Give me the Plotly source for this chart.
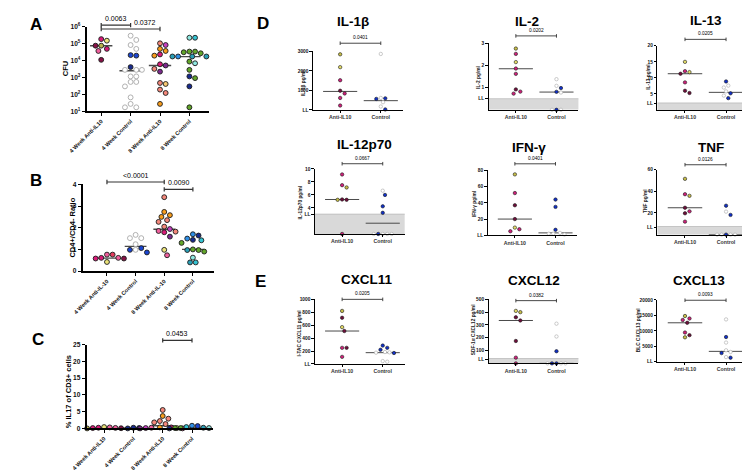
import numpy as np
import plotly.graph_objects as go

W, H = 750, 470
FONT = "Liberation Sans, Arial, sans-serif"

# ---------------- data ----------------
cats_A = ["4 Week Anti-IL10", "4 Week Control", "8 Week Anti-IL10", "8 Week Control"]
cats_B = ["4 Week Anti-IL-10", "4 Week Control", "8 Week Anti-IL-10", "8 Week Control"]
cats_C = ["4 Week Anti-IL10", "4 Week Control", "8 Week Anti-IL10", "8 Week Control"]
cats_DE = ["Anti-IL10", "Control"]

# Panel A: CFU
cfu_4w_anti = [150000, 186000, 76000, 76000, 49000, 37000, 11000]
cfu_4w_anti_col = ["y", "m", "o", "d", "m", "p", "d"]
cfu_4w_ctrl = [295000, 166000, 83000, 49000, 21000, 19500, 4100, 2800, 2800, 2800,
               1150, 1150, 540, 540, 295, 66, 27, 17, 17]
cfu_4w_ctrl_col = ["w", "w", "w", "w", "b", "b", "n", "w", "w", "w",
                   "w", "w", "w", "w", "w", "w", "w", "w", "w"]
cfu_8w_anti = [105000, 83000, 49000, 37000, 23000, 19500, 6000, 5100, 3200, 2200, 470, 410, 190, 120, 27]
cfu_8w_anti_col = ["s", "v", "or", "or", "m", "or", "m", "pu", "s", "pu", "s", "lo", "s", "s", "or"]
cfu_8w_ctrl = [224000, 224000, 34000, 34000, 31000, 27000, 17400, 17400, 17400, 17400,
               8700, 6900, 2800, 1150, 910, 295, 17]
cfu_8w_ctrl_col = ["lc", "c", "g", "g", "g", "g", "t", "sk", "t", "t",
                   "g", "lc", "g", "n", "g", "n", "g"]
cfu_medians = [76000, 2500, 5100, 17000]

# Panel B: CD4+/CD4- ratio
cd4_4w_anti = [0.76, 0.76, 0.61, 0.58, 0.61, 0.58, 0.42]
cd4_4w_anti_col = ["p", "r", "m", "m", "p", "d", "y"]
cd4_4w_ctrl = [1.67, 1.52, 1.52, 1.24, 0.98, 1.06, 0.98, 0.86]
cd4_4w_ctrl_col = ["w", "w", "w", "w", "w", "b", "b", "b"]
cd4_8w_anti = [3.41, 2.73, 2.58, 2.5, 2.35, 2.27, 2.05, 1.94, 1.85, 1.82, 1.79, 1.59, 0.98, 0.73]
cd4_8w_anti_col = ["s", "or", "or", "or", "s", "s", "s", "v", "p", "s", "m", "pu", "y", "p"]
cd4_8w_ctrl = [1.7, 1.64, 1.5, 1.44, 1.42, 1.3, 1.0, 0.97, 0.97, 0.9, 0.62, 0.4, 0.4]
cd4_8w_ctrl_col = ["sk", "n", "sk", "n", "c", "g", "g", "g", "t", "g", "lc", "c", "t"]
cd4_medians = [0.6, 1.14, 1.93, 1.0]

# Panel C: % IL17 of CD3+
il17_4w_anti = [0.0, 0.4, 0.3, 0.2, 0.1, 0.05, 0.15]
il17_4w_anti_col = ["o", "y", "p", "m", "m", "d", "p"]
il17_4w_ctrl = [0.0, 0.1, 0.2]
il17_4w_ctrl_col = ["n", "n", "n"]
il17_8w_anti = [5.5, 3.7, 2.9, 2.2, 1.8, 1.3, 0.3, 0.2, 0.1, 0.1, 0.0, 0.3, 0.0]
il17_8w_anti_col = ["s", "or", "s", "s", "s", "s", "or", "p", "y", "v", "p", "m", "pu"]
il17_8w_ctrl = [0.8, 0.7, 0.4, 0.1, 0.0, 0.2, 0.0, 0.1, 0.0, 0.1]
il17_8w_ctrl_col = ["sk", "b", "c", "g", "g", "t", "n", "lc", "t", "g"]
il17_medians = [0.15, 0.1, 0.8, 0.15]

# Panels D/E: cytokines (pg/ml), [anti-IL10, control]
il1b_anti = [2850, 2190, 1520, 980, 840, 610, 220]
il1b_anti_col = ["o", "y", "m", "d", "m", "m", "m"]
il1b_ctrl = [2870, 590, 560, 610, 390, 170, 20]
il1b_ctrl_col = ["w", "b", "b", "w", "w", "w", "b"]
il1b_medians = [945, 470]

il2_anti = [2.76, 2.52, 2.15, 1.86, 1.62, 0.92, 0.82, 0.73]
il2_anti_col = ["o", "m", "y", "m", "m", "d", "m", "m"]
il2_ctrl = [1.38, 1.08, 0.98, 0.81, 0.78, 0, 0, 0]
il2_ctrl_col = ["w", "w", "b", "b", "w", "b", "w", "w"]
il2_medians = [1.85, 0.8]

il13_anti = [15, 12.1, 11.8, 11.3, 8.6, 6, 5.3]
il13_anti_col = ["y", "m", "y", "d", "m", "d", "d"]
il13_ctrl = [8.9, 7.6, 7, 5.8, 5.2, 4.5, 3.7]
il13_ctrl_col = ["b", "w", "w", "w", "b", "w", "b"]
il13_medians = [11.3, 5.5]

il12_anti = [9.15, 7.5, 7.15, 5.3, 5.25, 5.25, 0]
il12_anti_col = ["m", "m", "o", "d", "d", "o", "m"]
il12_ctrl = [6.65, 6.0, 4.25, 3.25, 0, 0, 0, 0, 0]
il12_ctrl_col = ["w", "b", "b", "b", "w", "w", "b", "w", "w"]
il12_medians = [5.3, 1.65]

ifng_anti = [75, 52, 37, 20, 9.5, 7.5, 5]
ifng_anti_col = ["o", "m", "d", "d", "y", "m", "m"]
ifng_ctrl = [44, 35, 6.8, 3, 2, 2, 1]
ifng_ctrl_col = ["b", "b", "b", "w", "w", "w", "w"]
ifng_medians = [20, 3]

tnf_anti = [51.5, 37.3, 35.8, 24.8, 21.5, 19.7, 12]
tnf_anti_col = ["o", "m", "o", "d", "m", "d", "m"]
tnf_ctrl = [26.7, 21.2, 18.2, 0, 0, 0, 0, 0]
tnf_ctrl_col = ["b", "w", "b", "b", "w", "w", "w", "w"]
tnf_medians = [24.8, 0]

cxcl11_anti = [821, 715, 570, 510, 250, 250, 110]
cxcl11_anti_col = ["o", "d", "y", "d", "m", "d", "m"]
cxcl11_ctrl = [285, 250, 220, 185, 180, 175, 170, 45, 35]
cxcl11_ctrl_col = ["b", "b", "b", "w", "w", "w", "b", "w", "w"]
cxcl11_medians = [510, 175]

cxcl12_anti = [410, 400, 360, 335, 175, 45, 0]
cxcl12_anti_col = ["y", "o", "d", "d", "d", "m", "m"]
cxcl12_ctrl = [310, 210, 95, 0, 0, 0, 0, 0]
cxcl12_ctrl_col = ["w", "w", "b", "b", "w", "b", "w", "w"]
cxcl12_medians = [335, 0]

cxcl13_anti = [14800, 14000, 13500, 12600, 9450, 8600, 7900]
cxcl13_anti_col = ["o", "m", "m", "d", "m", "d", "o"]
cxcl13_ctrl = [13700, 8000, 6200, 3700, 3150, 2800, 1500, 1300]
cxcl13_ctrl_col = ["w", "b", "w", "w", "w", "b", "w", "b"]
cxcl13_medians = [12600, 3350]

# ---------------- styles ----------------
STY = {
    "o": "#b9b44c", "y": "#ece47a", "lo": "#f6c870", "m": "#d81b78", "p": "#ef5f9c",
    "d": "#861246", "r": "#e23a5c", "or": "#f79c1c", "s": "#f3877a", "v": "#c540c0",
    "pu": "#7b2a8c", "g": "#62a52a", "n": "#172a8c", "b": "#1a45d0", "sk": "#2f8fe6",
    "t": "#2a9fb6", "c": "#35c3d2", "lc": "#8fe8e0", "w": "#ffffff",
}
DE_STY = {"o": "#c8bf48", "y": "#e4dc66", "m": "#d0207a", "d": "#6e0e3a",
          "b": "#1030c8", "w": "#ffffff"}


def px(x):
    return x / W


def py(y):
    return 1 - y / H


panels = [
    dict(L=62, R=187, T=15, B=100.7, yr=[1, 6], log=True, xr=[-0.5, 3.65], cats=cats_A,
         groups=[(cfu_4w_anti, cfu_4w_anti_col), (cfu_4w_ctrl, cfu_4w_ctrl_col),
                 (cfu_8w_anti, cfu_8w_anti_col), (cfu_8w_ctrl, cfu_8w_ctrl_col)],
         med=cfu_medians,
         tv=[10, 100, 1e3, 1e4, 1e5, 1e6],
         tt=["10<sup>1</sup>", "10<sup>2</sup>", "10<sup>3</sup>", "10<sup>4</sup>", "10<sup>5</sup>", "10<sup>6</sup>"],
         sig=[(0, 1, 1.26e6, "0.0063", 0.5), (0, 2, 7.4e5, "0.0372", 1.5)],
         band=None, big=True),
    dict(L=58, R=193, T=175, B=263, yr=[0, 4], log=False, xr=[-0.85, 3.75], cats=cats_B,
         groups=[(cd4_4w_anti, cd4_4w_anti_col), (cd4_4w_ctrl, cd4_4w_ctrl_col),
                 (cd4_8w_anti, cd4_8w_anti_col), (cd4_8w_ctrl, cd4_8w_ctrl_col)],
         med=cd4_medians, tv=[0, 1, 2, 3, 4], tt=["0", "1", "2", "3", "4"],
         sig=[(0, 2, 4.11, "<0.0001", 1.0), (2, 3, 3.77, "0.0090", 2.5)],
         band=None, big=True),
    dict(L=62, R=192, T=337.7, B=422.7, yr=[0, 25], log=False, xr=[-0.6, 3.73], cats=cats_C,
         groups=[(il17_4w_anti, il17_4w_anti_col), (il17_4w_ctrl, il17_4w_ctrl_col),
                 (il17_8w_anti, il17_8w_anti_col), (il17_8w_ctrl, il17_8w_ctrl_col)],
         med=il17_medians, tv=[0, 5, 10, 15, 20, 25], tt=["0", "5", "10", "15", "20", "25"],
         sig=[(2, 3, 26.3, "0.0453", 2.5)], band=None, big=True),
    dict(L=294, R=386, T=40, B=99.3, yr=[0, 3000], groups=[(il1b_anti, il1b_anti_col), (il1b_ctrl, il1b_ctrl_col)],
         med=il1b_medians, tv=[0, 1000, 2000, 3000], tt=["LL", "1000", "2000", "3000"],
         sig=[(0, 1, 3420, "0.0401", 0.5)], band=None),
    dict(L=474, R=566, T=31.7, B=99.3, yr=[0, 3], groups=[(il2_anti, il2_anti_col), (il2_ctrl, il2_ctrl_col)],
         med=il2_medians, tv=[0.5, 1, 2, 3], tt=["LL", "1", "2", "3"],
         sig=[(0, 1, 3.33, "0.0202", 0.5)], band=0.5),
    dict(L=647, R=740, T=34.3, B=99.5, yr=[0, 20], groups=[(il13_anti, il13_anti_col), (il13_ctrl, il13_ctrl_col)],
         med=il13_medians, tv=[2, 5, 10, 15, 20], tt=["LL", "5", "10", "15", "20"],
         sig=[(0, 1, 22, "0.0205", 0.5)], band=2.2),
    dict(L=296, R=388, T=159.3, B=225.3, yr=[0, 10], groups=[(il12_anti, il12_anti_col), (il12_ctrl, il12_ctrl_col)],
         med=il12_medians, tv=[3, 4, 6, 8, 10], tt=["LL", "4", "6", "8", "10"],
         sig=[(0, 1, 10.8, "0.0667", 0.5)], band=3.05),
    dict(L=473, R=565, T=160.7, B=226.7, yr=[0, 80], groups=[(ifng_anti, ifng_anti_col), (ifng_ctrl, ifng_ctrl_col)],
         med=ifng_medians, tv=[0, 20, 40, 60, 80], tt=["LL", "20", "40", "60", "80"],
         sig=[(0, 1, 88, "0.0401", 0.5)], band=None),
    dict(L=647, R=740, T=160, B=226, yr=[0, 60], groups=[(tnf_anti, tnf_anti_col), (tnf_ctrl, tnf_ctrl_col)],
         med=tnf_medians, tv=[7, 20, 40, 60], tt=["LL", "20", "40", "60"],
         sig=[(0, 1, 64.5, "0.0126", 0.5)], band=7.5),
    dict(L=296, R=388, T=291.7, B=357.3, yr=[0, 1000], groups=[(cxcl11_anti, cxcl11_anti_col), (cxcl11_ctrl, cxcl11_ctrl_col)],
         med=cxcl11_medians, tv=[0, 200, 400, 600, 800, 1000], tt=["LL", "200", "400", "600", "800", "1000"],
         sig=[(0, 1, 1000, "0.0205", 0.5)], band=None),
    dict(L=474, R=566, T=291.7, B=356.7, yr=[0, 500], groups=[(cxcl12_anti, cxcl12_anti_col), (cxcl12_ctrl, cxcl12_ctrl_col)],
         med=cxcl12_medians, tv=[30, 100, 200, 300, 400, 500], tt=["LL", "100", "200", "300", "400", "500"],
         sig=[(0, 1, 490, "0.0382", 0.5)], band=38),
    dict(L=647, R=740, T=292.3, B=355, yr=[0, 20000], groups=[(cxcl13_anti, cxcl13_anti_col), (cxcl13_ctrl, cxcl13_ctrl_col)],
         med=cxcl13_medians, tv=[0, 5000, 10000, 15000, 20000], tt=["LL", "5000", "10000", "15000", "20000"],
         sig=[(0, 1, 19900, "0.0093", 0.5)], band=None),
]


def swarm(vals, ypu, xpu, step, log=False):
    ys = [(np.log10(v) if log else v) * ypu for v in vals]
    order = sorted(range(len(vals)), key=lambda i: -ys[i])
    placed = []
    offs = [0.0] * len(vals)
    for i in order:
        k = 0.0
        found = None
        while found is None:
            cands = [0.0] if k == 0 else [k * step, -k * step]
            for c in cands:
                if all((c - a) ** 2 + (ys[i] - b) ** 2 >= (step * 0.97) ** 2 for a, b in placed):
                    found = c
                    break
            k += 0.5
        placed.append((found, ys[i]))
        offs[i] = found / xpu
    return offs


fig = go.Figure()
shapes = []
annotations = []
layout_axes = {}

for idx, p in enumerate(panels, start=1):
    big = p.get("big", False)
    log = p.get("log", False)
    xr = p.get("xr", [-0.67, 1.54])
    cats = p.get("cats", cats_DE)
    xs = "" if idx == 1 else str(idx)
    xname, yname = "x" + xs, "y" + xs
    sty = STY if big else DE_STY
    wpx = p["R"] - p["L"]
    hpx = p["B"] - p["T"]
    xpu = wpx / (xr[1] - xr[0])
    ypu = hpx / (p["yr"][1] - p["yr"][0])
    ms = 4.9 if big else 3.4
    step = 5.8 if big else 4.6
    lw_axis = 1.5 if big else 1.1

    # median lines
    mx, my = [], []
    half = 0.38 if big else 0.42
    for gi, m in enumerate(p["med"]):
        mx += [gi - half, gi + half, None]
        my += [m, m, None]
    fig.add_trace(go.Scatter(x=mx, y=my, mode="lines", xaxis=xname, yaxis=yname,
                             line=dict(color="#4a4a4a", width=1.4 if big else 1.0),
                             hoverinfo="skip", showlegend=False))
    # points
    for gi, (vals, cols) in enumerate(p["groups"]):
        offs = swarm(vals, ypu, xpu, step, log)
        fills = [sty[c] for c in cols]
        edges = ["#a8a8a8" if c == "w" else "#1a1a1a" for c in cols]
        fig.add_trace(go.Scatter(
            x=[gi + o for o in offs], y=vals, mode="markers", xaxis=xname, yaxis=yname,
            cliponaxis=False, showlegend=False,
            marker=dict(size=ms, color=fills, line=dict(color=edges, width=0.9 if big else 0.6))))

    layout_axes["xaxis" + xs] = dict(
        domain=[px(p["L"]), px(p["R"])], range=xr, anchor=yname, showgrid=False, zeroline=False,
        showline=True, linecolor="black", linewidth=lw_axis, ticks="outside",
        ticklen=3 if big else 2, tickwidth=1.2 if big else 0.9, tickcolor="black",
        tickvals=list(range(len(cats))), ticktext=cats,
        tickangle=-45 if big else 0,
        tickfont=dict(family=FONT, size=5.6 if big else 5.2, color="#111" if big else "#333", weight="bold"),
        fixedrange=True)
    yax = dict(
        domain=[py(p["B"]), py(p["T"])], anchor=xname, showgrid=False, zeroline=False,
        showline=True, linecolor="black", linewidth=lw_axis, ticks="outside",
        ticklen=3 if big else 2.5, tickwidth=1.2 if big else 0.9, tickcolor="black",
        tickvals=p["tv"], ticktext=p["tt"],
        tickfont=dict(family=FONT, size=6.6 if big else 4.8, color="#111", weight="bold"),
        fixedrange=True)
    if log:
        yax.update(type="log", range=p["yr"])
    else:
        yax.update(range=p["yr"])
    layout_axes["yaxis" + xs] = yax

    # detection-limit band
    if p["band"] is not None:
        shapes.append(dict(type="rect", xref=xname + " domain", yref=yname, x0=0, x1=1,
                           y0=p["yr"][0], y1=p["band"], fillcolor="#d9d9d9",
                           line=dict(width=0), layer="below"))
        shapes.append(dict(type="line", xref=xname + " domain", yref=yname, x0=0, x1=1,
                           y0=p["band"], y1=p["band"], line=dict(color="#b5b5b5", width=0.7),
                           layer="below"))

    # significance bars
    r0, r1 = p["yr"]
    for (a, b, v, lab, lx) in p["sig"]:
        vv = np.log10(v) if log else v
        f = (vv - r0) / (r1 - r0)
        cap = (2.2 if big else 1.8) / hpx
        lc = "#333333"
        lwid = 1.2 if big else 0.9
        shapes.append(dict(type="line", xref=xname, yref=yname + " domain", x0=a, x1=b, y0=f, y1=f,
                           line=dict(color=lc, width=lwid)))
        for e in (a, b):
            shapes.append(dict(type="line", xref=xname, yref=yname + " domain", x0=e, x1=e,
                               y0=f - cap, y1=f + cap, line=dict(color=lc, width=lwid)))
        annotations.append(dict(x=lx, y=f, xref=xname, yref=yname + " domain", text=lab,
                                showarrow=False, yanchor="bottom", xanchor="center", yshift=1.0,
                                font=dict(family=FONT, size=7.0 if big else 4.8, color="#000000")))


def txt(x, y, t, size, bold=True, angle=0, color="black"):
    annotations.append(dict(x=px(x), y=py(y), xref="paper", yref="paper", text=t, showarrow=False,
                            xanchor="center", yanchor="middle", textangle=angle,
                            font=dict(family=FONT, size=size, color=color,
                                      weight="bold" if bold else "normal")))


# panel letters
for letter, x, y in [("A", 10, 13), ("B", 10, 171), ("C", 12, 332), ("D", 243, 12), ("E", 240, 274)]:
    txt(x, y, letter, 17)

# cytokine titles
for t, x, y in [("IL-1β", 335, 10), ("IL-2", 513, 9.5), ("IL-13", 697, 8.5),
                ("IL-12p70", 347, 135), ("IFN-γ", 515, 138), ("TNF", 702, 138),
                ("CXCL11", 349, 272), ("CXCL12", 520, 273), ("CXCL13", 690, 273)]:
    txt(x, y, t, 13.5)

# y-axis titles
txt(40, 58, "CFU", 7.5, angle=-90)
txt(48, 219, "CD4+/CD4- Ratio", 7.5, angle=-90)
txt(43, 385, "% IL17 of CD3+ cells", 7.5, angle=-90)
for t, x, y in [("IL-1β pg/ml", 285, 72), ("IL-2 pg/ml", 463, 66), ("IL-13 pg/ml", 637, 66),
                ("IL-12p70 pg/ml", 281, 193), ("IFN-γ pg/ml", 459, 195), ("TNF pg/ml", 634, 192),
                ("I-TAC CXCL11 pg/ml", 280, 326), ("SDF-1α CXCL12 pg/ml", 458, 323),
                ("BLC CXCL13 pg/ml", 627, 323)]:
    txt(x, y, t, 4.8, angle=-90, color="#222")

fig.update_layout(
    width=W, height=H, margin=dict(l=0, r=0, t=0, b=0),
    paper_bgcolor="white", plot_bgcolor="rgba(0,0,0,0)",
    showlegend=False, shapes=shapes, annotations=annotations,
    font=dict(family=FONT), **layout_axes)

fig.write_html("out.html")
